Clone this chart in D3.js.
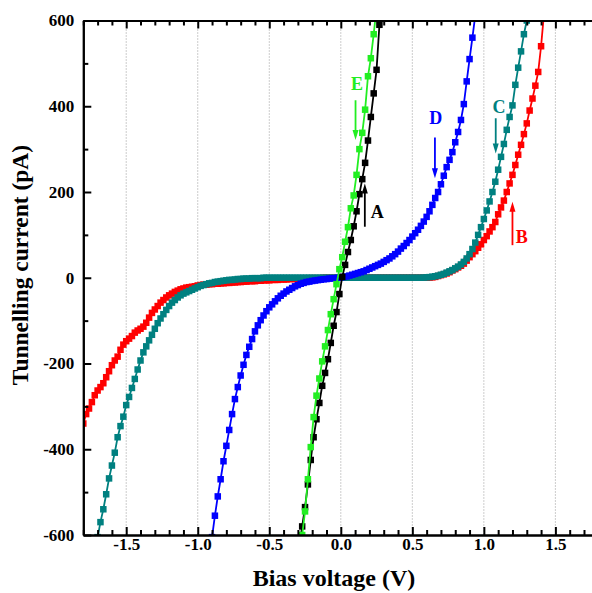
<!DOCTYPE html>
<html>
<head>
<meta charset="utf-8">
<script src="https://cdn.jsdelivr.net/npm/d3@7"></script>
<style>
  body { margin: 0; background: #fff; }
  text { font-family: "Liberation Serif", "Times New Roman", serif; font-weight: bold; }
</style>
</head>
<body>
<svg id="chart" width="592" height="593"></svg>
<script>
// tick labels
const xTicks = [-1.5, -1.0, -0.5, 0.0, 0.5, 1.0, 1.5];
const xTickLabels = ["-1.5", "-1.0", "-0.5", "0.0", "0.5", "1.0", "1.5"];
const yTicks = [-600, -400, -200, 0, 200, 400, 600];
const yTickLabels = ["-600", "-400", "-200", "0", "200", "400", "600"];

// series: [bias voltage (V), tunnelling current (pA)]
const curveA = [
  [-0.29,-625],[-0.27,-580],[-0.25,-535],[-0.23,-482],[-0.21,-425],[-0.19,-372],[-0.17,-330],[-0.15,-292],
  [-0.13,-252],[-0.11,-222],[-0.09,-190],[-0.07,-152],[-0.05,-112],[-0.03,-80],[-0.01,-38],[0.01,2],
  [0.03,30],[0.05,60],[0.07,88],[0.09,120],[0.11,155],[0.13,195],[0.15,230],[0.17,268],
  [0.19,320],[0.21,375],[0.23,430],[0.25,485],[0.27,590],[0.29,655]
];
const curveB = [
  [-1.80,-340],[-1.78,-318],[-1.76,-305],[-1.74,-290],[-1.72,-274],[-1.70,-263],[-1.68,-255],[-1.66,-246],
  [-1.64,-232],[-1.62,-218],[-1.60,-204],[-1.58,-193],[-1.56,-184],[-1.54,-168],[-1.52,-156],[-1.50,-148],
  [-1.48,-142],[-1.46,-136],[-1.44,-128],[-1.42,-123],[-1.40,-119],[-1.38,-114],[-1.36,-105],[-1.34,-93],
  [-1.32,-82],[-1.30,-74],[-1.28,-66],[-1.26,-58],[-1.24,-52],[-1.22,-46],[-1.20,-41],[-1.18,-37],
  [-1.16,-33],[-1.14,-30],[-1.12,-27],[-1.10,-25],[-1.08,-23],[-1.06,-22],[-1.04,-21],[-1.02,-20],
  [-1.00,-18],[-0.98,-17],[-0.96,-16],[-0.94,-16],[-0.92,-15],[-0.90,-15],[-0.88,-14],[-0.86,-14],
  [-0.84,-13],[-0.82,-13],[-0.80,-12],[-0.78,-12],[-0.76,-11],[-0.74,-11],[-0.72,-10],[-0.70,-10],
  [-0.68,-9],[-0.66,-9],[-0.64,-8],[-0.62,-8],[-0.60,-8],[-0.58,-7],[-0.56,-7],[-0.54,-6],
  [-0.52,-6],[-0.50,-6],[-0.48,-5],[-0.46,-5],[-0.44,-5],[-0.42,-4],[-0.40,-4],[-0.38,-4],
  [-0.36,-3],[-0.34,-3],[-0.32,-3],[-0.30,-2],[-0.28,-2],[-0.26,-2],[-0.24,-2],[-0.22,-1],
  [-0.20,-1],[-0.18,-1],[-0.16,-1],[-0.14,-1],[-0.12,0],[-0.10,0],[-0.08,0],[-0.06,0],
  [-0.04,0],[-0.02,0],[0.00,0],[0.02,0],[0.04,0],[0.06,0],[0.08,0],[0.10,0],
  [0.12,0],[0.14,0],[0.16,0],[0.18,0],[0.20,0],[0.22,0],[0.24,0],[0.26,0],
  [0.28,0],[0.30,0],[0.32,0],[0.34,0],[0.36,0],[0.38,0],[0.40,0],[0.42,0],
  [0.44,0],[0.46,0],[0.48,0],[0.50,0],[0.52,0],[0.54,0],[0.56,0],[0.58,0],
  [0.60,0],[0.62,0.5],[0.64,1],[0.66,2],[0.68,4],[0.70,6],[0.72,8],[0.74,10],
  [0.76,13],[0.78,17],[0.80,20],[0.82,24],[0.84,28],[0.86,33],[0.88,40],[0.90,48],
  [0.92,55],[0.94,62],[0.96,70],[0.98,78],[1.00,88],[1.02,97],[1.04,108],[1.06,118],
  [1.08,130],[1.10,148],[1.12,164],[1.14,180],[1.16,200],[1.18,220],[1.20,240],[1.22,263],
  [1.24,287],[1.26,310],[1.28,335],[1.30,360],[1.32,390],[1.34,418],[1.36,448],[1.38,480],
  [1.40,540],[1.42,615]
];
const curveC = [
  [-1.70,-605],[-1.68,-570],[-1.66,-540],[-1.64,-505],[-1.62,-468],[-1.60,-438],[-1.58,-408],[-1.56,-372],
  [-1.54,-346],[-1.52,-324],[-1.50,-297],[-1.48,-278],[-1.46,-257],[-1.44,-236],[-1.42,-214],[-1.40,-193],
  [-1.38,-174],[-1.36,-160],[-1.34,-146],[-1.32,-133],[-1.30,-119],[-1.28,-106],[-1.26,-95],[-1.24,-85],
  [-1.22,-75],[-1.20,-66],[-1.18,-58],[-1.16,-52],[-1.14,-46],[-1.12,-41],[-1.10,-37],[-1.08,-34],
  [-1.06,-31],[-1.04,-28],[-1.02,-25],[-1.00,-22],[-0.98,-19],[-0.96,-17],[-0.94,-15],[-0.92,-13],
  [-0.90,-12],[-0.88,-10],[-0.86,-9],[-0.84,-8],[-0.82,-7],[-0.80,-6],[-0.78,-5],[-0.76,-5],
  [-0.74,-4],[-0.72,-3],[-0.70,-3],[-0.68,-2],[-0.66,-2],[-0.64,-2],[-0.62,-1],[-0.60,-1],
  [-0.58,-1],[-0.56,-1],[-0.54,0],[-0.52,0],[-0.50,0],[-0.48,0],[-0.46,0],[-0.44,0],
  [-0.42,0],[-0.40,0],[-0.38,0],[-0.36,0],[-0.34,0],[-0.32,0],[-0.30,0],[-0.28,0],
  [-0.26,0],[-0.24,0],[-0.22,0],[-0.20,0],[-0.18,0],[-0.16,0],[-0.14,0],[-0.12,0],
  [-0.10,0],[-0.08,0],[-0.06,0],[-0.04,0],[-0.02,0],[0.00,0],[0.02,0],[0.04,0],
  [0.06,0],[0.08,0],[0.10,0],[0.12,0],[0.14,0],[0.16,0],[0.18,0],[0.20,0],
  [0.22,0],[0.24,0],[0.26,0],[0.28,0],[0.30,0],[0.32,0],[0.34,0],[0.36,0],
  [0.38,0],[0.40,0],[0.42,0],[0.44,0],[0.46,0],[0.48,0],[0.50,0],[0.52,0],
  [0.54,0],[0.56,0],[0.58,0.5],[0.60,1],[0.62,1.5],[0.64,2.5],[0.66,3.5],[0.68,5],
  [0.70,7],[0.72,9],[0.74,12],[0.76,15],[0.78,18],[0.80,22],[0.82,26],[0.84,31],
  [0.86,37],[0.88,45],[0.90,55],[0.92,67],[0.94,82],[0.96,100],[0.98,118],[1.00,137],
  [1.02,157],[1.04,178],[1.06,200],[1.08,224],[1.10,252],[1.12,282],[1.14,312],[1.16,345],
  [1.18,375],[1.20,402],[1.22,450],[1.24,490],[1.26,528],[1.28,568],[1.30,600],[1.32,635]
];
const curveD = [
  [-0.90,-605],[-0.88,-555],[-0.86,-510],[-0.84,-470],[-0.82,-428],[-0.80,-392],[-0.78,-355],[-0.76,-318],
  [-0.74,-283],[-0.72,-255],[-0.70,-228],[-0.68,-203],[-0.66,-180],[-0.64,-161],[-0.62,-143],[-0.60,-125],
  [-0.58,-111],[-0.56,-99],[-0.54,-88],[-0.52,-78],[-0.50,-69],[-0.48,-62],[-0.46,-55],[-0.44,-48],
  [-0.42,-42],[-0.40,-37],[-0.38,-32],[-0.36,-28],[-0.34,-24],[-0.32,-20],[-0.30,-17],[-0.28,-14],
  [-0.26,-12],[-0.24,-10],[-0.22,-9],[-0.20,-7.5],[-0.18,-6.5],[-0.16,-5.5],[-0.14,-4.5],[-0.12,-3.5],
  [-0.10,-3],[-0.08,-2],[-0.06,-1.5],[-0.04,-1],[-0.02,0],[0.00,1],[0.02,2],[0.04,3],
  [0.06,5],[0.08,7],[0.10,9],[0.12,11],[0.14,13],[0.16,15],[0.18,18],[0.20,21],
  [0.22,24],[0.24,27],[0.26,30],[0.28,33],[0.30,37],[0.32,41],[0.34,45],[0.36,50],
  [0.38,55],[0.40,61],[0.42,68],[0.44,74],[0.46,81],[0.48,88],[0.50,96],[0.52,104],
  [0.54,112],[0.56,121],[0.58,131],[0.60,142],[0.62,155],[0.64,170],[0.66,186],[0.68,200],
  [0.70,218],[0.72,238],[0.74,258],[0.76,275],[0.78,293],[0.80,316],[0.82,340],[0.84,368],
  [0.86,405],[0.88,458],[0.90,510],[0.92,560],[0.94,612]
];
const curveE = [
  [-0.27,-600],[-0.25,-545],[-0.23,-470],[-0.21,-395],[-0.19,-325],[-0.17,-275],[-0.15,-235],[-0.13,-195],
  [-0.11,-160],[-0.09,-122],[-0.07,-85],[-0.05,-50],[-0.03,-15],[-0.01,20],[0.01,48],[0.03,84],
  [0.05,118],[0.07,162],[0.09,192],[0.11,240],[0.13,300],[0.15,338],[0.17,392],[0.19,470],
  [0.21,512],[0.23,568],[0.25,630]
];

// label / arrow anchors, in data units
const annotations = [
  {name: "E", labelV: 0.114, labelI: 453, arrowV: 0.103, fromI: 414, toI: 321},
  {name: "A", labelV: 0.254, labelI: 154, arrowV: 0.168, fromI: 119, toI: 220},
  {name: "D", labelV: 0.663, labelI: 374, arrowV: 0.658, fromI: 327, toI: 232},
  {name: "C", labelV: 1.106, labelI: 400, arrowV: 1.083, fromI: 372, toI: 290},
  {name: "B", labelV: 1.265, labelI: 96,  arrowV: 1.200, fromI: 76,  toI: 177}
];

const colors = {A: "#000000", B: "#ff0000", C: "#008080", D: "#0000ff", E: "#22ee22"};

const main = function() {
  var svg = d3.select("#chart");
  var W = 592, H = 593;
  var left = 83.3, right = 598.3, top = 20.5, bottom = 535;

  var x = d3.scaleLinear().domain([-1.8, 1.8]).range([left, right]);
  var y = d3.scaleLinear().domain([-600, 600]).range([bottom, top]);

  svg.append("rect").attr("width", W).attr("height", H).attr("fill", "#fff");

  // dotted vertical grid
  svg.append("g").selectAll("line").data(xTicks).join("line")
    .attr("x1", d => x(d)).attr("x2", d => x(d))
    .attr("y1", top).attr("y2", bottom)
    .attr("stroke", "#9a9a9a").attr("stroke-width", 1)
    .attr("stroke-dasharray", "1,2");

  svg.append("clipPath").attr("id", "clip")
    .append("rect").attr("x", left).attr("y", top)
    .attr("width", right - left).attr("height", bottom - top);

  var plot = svg.append("g").attr("clip-path", "url(#clip)");
  var line = d3.line().x(d => x(d[0])).y(d => y(d[1]));

  var series = [
    {name: "B", data: curveB},
    {name: "C", data: curveC},
    {name: "D", data: curveD},
    {name: "A", data: curveA},
    {name: "E", data: curveE}
  ];

  var ms = 6.5;
  series.forEach(function(s) {
    var g = plot.append("g");
    g.append("path").datum(s.data)
      .attr("d", line)
      .attr("fill", "none")
      .attr("stroke", colors[s.name])
      .attr("stroke-width", 1.8);
    g.selectAll("rect").data(s.data).join("rect")
      .attr("x", d => x(d[0]) - ms / 2)
      .attr("y", d => y(d[1]) - ms / 2)
      .attr("width", ms).attr("height", ms)
      .attr("fill", colors[s.name]);
  });

  // axes (ticks point inward)
  var xMinor = d3.range(-18, 19).map(d => d / 10).filter(d => Math.round(d * 10) % 5 !== 0);
  var yMinor = [-500, -300, -100, 100, 300, 500];

  var styleAxis = function(g) {
    g.attr("font-family", null).attr("font-size", null);
    g.selectAll("path.domain").attr("stroke", "#000").attr("stroke-width", 2);
    g.selectAll(".tick line").attr("stroke", "#000").attr("stroke-width", 2);
    g.selectAll("text").attr("fill", "#000")
      .style("font-family", "'Liberation Serif', 'Times New Roman', serif")
      .style("font-weight", "bold")
      .style("font-size", "17px");
  };

  svg.append("g").attr("transform", "translate(0," + bottom + ")")
    .call(d3.axisBottom(x).tickValues(xMinor).tickSize(-5).tickSizeOuter(0).tickFormat(""))
    .call(styleAxis);
  svg.append("g").attr("transform", "translate(0," + bottom + ")")
    .call(d3.axisBottom(x).tickValues(xTicks).tickSize(-8).tickSizeOuter(0).tickPadding(3)
      .tickFormat((d, i) => xTickLabels[i]))
    .call(styleAxis);

  svg.append("g").attr("transform", "translate(0," + top + ")")
    .call(d3.axisTop(x).tickValues(xMinor).tickSize(-5).tickSizeOuter(0).tickFormat(""))
    .call(styleAxis);
  svg.append("g").attr("transform", "translate(0," + top + ")")
    .call(d3.axisTop(x).tickValues(xTicks).tickSize(-8).tickSizeOuter(0).tickFormat(""))
    .call(styleAxis);

  svg.append("g").attr("transform", "translate(" + left + ",0)")
    .call(d3.axisLeft(y).tickValues(yMinor).tickSize(-5).tickSizeOuter(0).tickFormat(""))
    .call(styleAxis);
  svg.append("g").attr("transform", "translate(" + left + ",0)")
    .call(d3.axisLeft(y).tickValues(yTicks).tickSize(-8).tickSizeOuter(0).tickPadding(9)
      .tickFormat((d, i) => yTickLabels[i]))
    .call(styleAxis);

  // axis titles
  svg.append("text")
    .attr("x", 334).attr("y", 586)
    .attr("text-anchor", "middle")
    .style("font-size", "24px")
    .text("Bias voltage (V)");
  svg.append("text")
    .attr("transform", "translate(28,265) rotate(-90)")
    .attr("text-anchor", "middle")
    .style("font-size", "23.5px")
    .text("Tunnelling current (pA)");

  // arrows with letters
  var ann = svg.append("g");
  annotations.forEach(function(a) {
    var c = colors[a.name];
    var ax = x(a.arrowV), y0 = y(a.fromI), y1 = y(a.toI);
    var dir = y1 > y0 ? 1 : -1;
    ann.append("line")
      .attr("x1", ax).attr("x2", ax)
      .attr("y1", y0).attr("y2", y1 - dir * 6)
      .attr("stroke", c).attr("stroke-width", 1.8);
    ann.append("path")
      .attr("d", "M" + ax + "," + y1 + "L" + (ax - 3) + "," + (y1 - dir * 10) +
        "L" + (ax + 3) + "," + (y1 - dir * 10) + "Z")
      .attr("fill", c);
    ann.append("text")
      .attr("x", x(a.labelV)).attr("y", y(a.labelI))
      .attr("dy", "0.35em")
      .attr("text-anchor", "middle")
      .style("font-size", "18px")
      .attr("fill", c)
      .text(a.name);
  });
};

main();
</script>
</body>
</html>
